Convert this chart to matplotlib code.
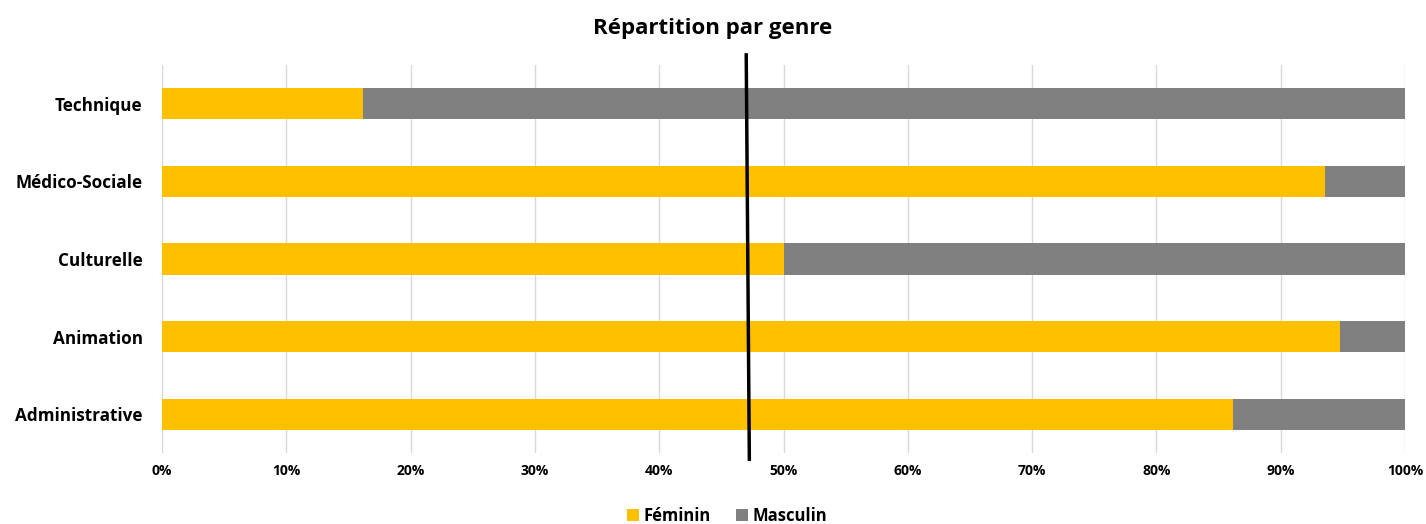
import numpy as np
import matplotlib.pyplot as plt
from matplotlib.ticker import PercentFormatter

# Data (bottom to top)
categories = ["Administrative", "Animation", "Culturelle", "Médico-Sociale", "Technique"]
feminin = [86.2, 94.8, 50.0, 93.6, 16.2]
masculin = [100 - v for v in feminin]
ref_line = 47.1  # vertical reference marker (%)

plt.rcParams['font.family'] = ['Open Sans', 'DejaVu Sans']

fig = plt.figure(figsize=(14.26, 5.24), dpi=100)
ax = fig.add_axes([0.1136, 0.1355, 0.8717, 0.7405])

y = np.arange(len(categories))
ax.barh(y, feminin, height=0.4, color="#FFC000", label="Féminin", zorder=2)
ax.barh(y, masculin, left=feminin, height=0.4, color="#808080", label="Masculin", zorder=2)

ax.set_xlim(0, 100)
ax.set_ylim(-0.5, 4.5)
ax.set_xticks(np.arange(0, 101, 10))
ax.xaxis.set_major_formatter(PercentFormatter(decimals=0))
ax.set_yticks(y)
ax.set_yticklabels(categories, fontsize=12.3, fontweight="bold")
for lab in ax.get_xticklabels():
    lab.set_fontsize(10)
    lab.set_fontweight("bold")
ax.tick_params(length=0)
ax.tick_params(axis='x', pad=8)
ax.tick_params(axis='y', pad=14)
ax.grid(axis='x', color="#D9D9D9", linewidth=1, zorder=0)
for s in ax.spines.values():
    s.set_visible(False)

# reference line, going a bit past the plot area
ax.plot([ref_line - 0.1, ref_line + 0.15], [4.63, -0.58], color="black", linewidth=2.5,
        clip_on=False, zorder=3)

fig.suptitle("Répartition par genre", fontsize=16, fontweight="bold", y=0.965)
leg = fig.legend(loc="lower center", ncol=2, frameon=False, bbox_to_anchor=(0.51, -0.03),
                 prop={'weight': 'bold', 'size': 12}, handlelength=0.7, handleheight=0.7,
                 handletextpad=0.3, columnspacing=1.5)

plt.savefig("out.png", dpi=100)
